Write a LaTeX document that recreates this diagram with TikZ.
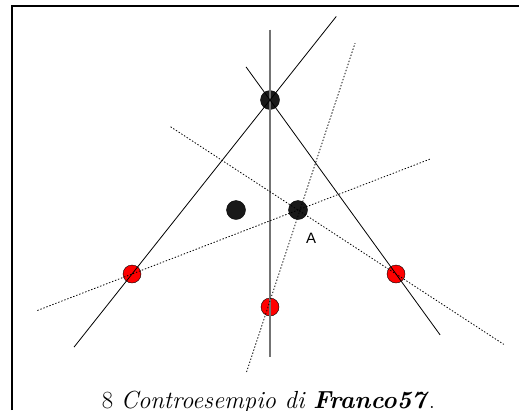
\documentclass[tikz,border=0pt]{standalone}
\usepackage{fontspec}
\newfontfamily\labelfont{Liberation Sans}
\usetikzlibrary{calc}

\begin{document}
\begin{tikzpicture}[x=1pt,y=-1pt,
 blackdot/.style={circle,draw,fill=black!90,minimum size=19pt,inner sep=0pt},
 reddot/.style={circle,draw,fill=red,minimum size=18pt,inner sep=0pt},
 solidline/.style={line width=.8pt},
 dotline/.style={line width=.8pt,dash pattern=on 1.4pt off 1.8pt},
 axisline/.style={line width=1.6pt,black!55}]
 \useasboundingbox (0,0) rectangle (519,410);
 % frame
 \draw[line width=1.8pt] (12,410) -- (12,6) -- (519,6);
 % points
 \node[blackdot] (t) at (270,100) {};
 \node[blackdot] (m) at (236,210) {};
 \node[blackdot] (a) at (298,210) {};
 \node[reddot] (l) at (132,274) {};
 \node[reddot] (r) at (396,274) {};
 \node[reddot] (b) at (270,307) {};
 \node[font=\labelfont\fontsize{15}{17}\selectfont] (la) at (311,238) {A};
 \coordinate (bs) at ($(b.center)+(-2,0)$);
 \coordinate (as) at ($(a.center)+(2,0)$);
 % lines
 \draw[axisline] ($(t.center)!-0.34!(b.center)$) -- ($(t.center)!1.24!(b.center)$);
 \draw[solidline] ($(t.center)!-0.48!(l.center)$) -- ($(t.center)!1.42!(l.center)$);
 \draw[solidline] ($(t.center)!-0.19!(r.center)$) -- ($(t.center)!1.35!(r.center)$);
 \draw[dotline] ($(a.center)!-1.30!(r.center)$) -- ($(a.center)!2.10!(r.center)$);
 \draw[dotline] ($(l.center)!-0.57!(a.center)$) -- ($(l.center)!1.80!(a.center)$);
 \draw[dotline] ($(bs)!-0.67!(as)$) -- ($(bs)!2.72!(as)$);
 % caption
 \node[anchor=base,font=\fontsize{24.7}{29}\selectfont] (cap) at (268.5,408)
   {8 \textit{Controesempio di} \textbf{\textit{Franco57}}.};
\end{tikzpicture}
\end{document}
